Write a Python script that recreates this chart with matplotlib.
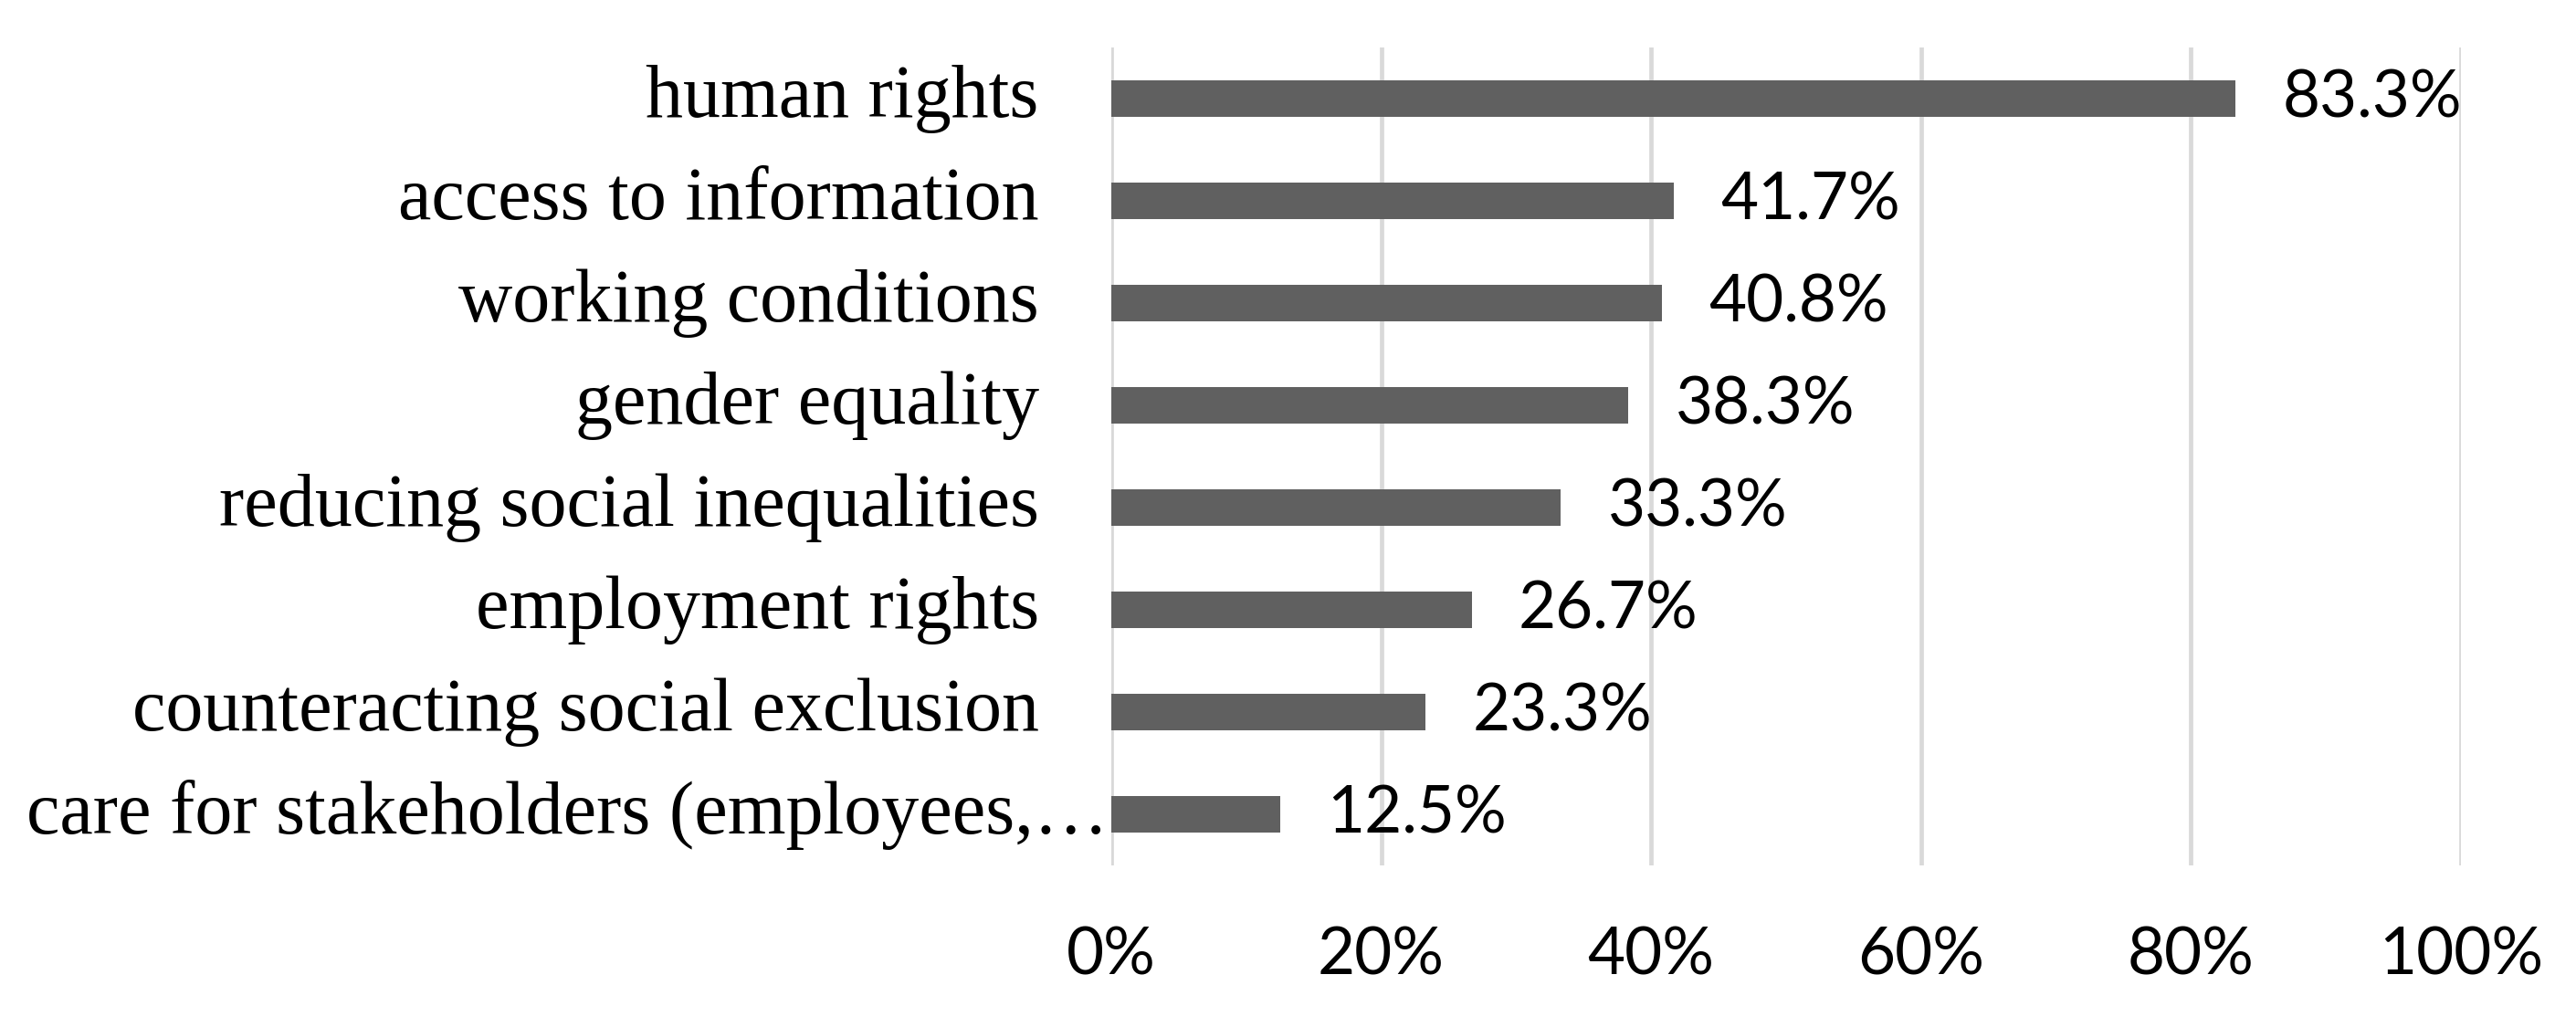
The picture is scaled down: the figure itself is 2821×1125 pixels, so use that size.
import matplotlib
matplotlib.use("Agg")
import matplotlib.pyplot as plt
from matplotlib.ticker import FuncFormatter

# data (top to bottom)
categories = [
    "human rights",
    "access to information",
    "working conditions",
    "gender equality",
    "reducing social inequalities",
    "employment rights",
    "counteracting social exclusion",
    "care for stakeholders (employees,\u2026",
]
values = [83.3, 41.7, 40.8, 38.3, 33.3, 26.7, 23.3, 12.5]
x_ticks = [0, 20, 40, 60, 80, 100]

bar_color = "#606060"
grid_color = "#d9d9d9"
label_font = "Liberation Serif"
num_font = "Lato"

fig = plt.figure(figsize=(28.21, 11.25), dpi=100)
ax = fig.add_axes([0.4314, 0.1573, 0.9553 - 0.4314, 0.9538 - 0.1573])

ypos = list(range(len(categories)))
ax.barh(ypos, values, height=0.365, color=bar_color, zorder=3)

ax.set_xlim(0, 100)
ax.set_ylim(len(categories) - 0.5, -0.5)

ax.set_xticks(x_ticks)
ax.xaxis.set_major_formatter(FuncFormatter(lambda v, p: "{:.0f}%".format(v)))
ax.tick_params(axis="x", length=0, pad=48, labelsize=51)
for lab in ax.get_xticklabels():
    lab.set_fontfamily(num_font)
ax.set_yticks([])
ax.grid(axis="x", color=grid_color, linewidth=3.4, zorder=0)
for s in ax.spines.values():
    s.set_visible(False)

# category labels, Excel-style; the long last one is truncated and sits closer
for i, cat in enumerate(categories):
    off = -2 if cat.endswith("\u2026") else -57
    ax.annotate(cat, xy=(0, i), xycoords=("axes fraction", "data"),
                xytext=(off, 0), textcoords="offset points",
                ha="right", va="center", fontsize=59, family=label_font)

# value labels
for i, v in enumerate(values):
    ax.annotate("{:.1f}%".format(v), xy=(v, i), xytext=(37, 0),
                textcoords="offset points", ha="left", va="center",
                fontsize=51, family=num_font)

fig.savefig("out.png", dpi=100)
